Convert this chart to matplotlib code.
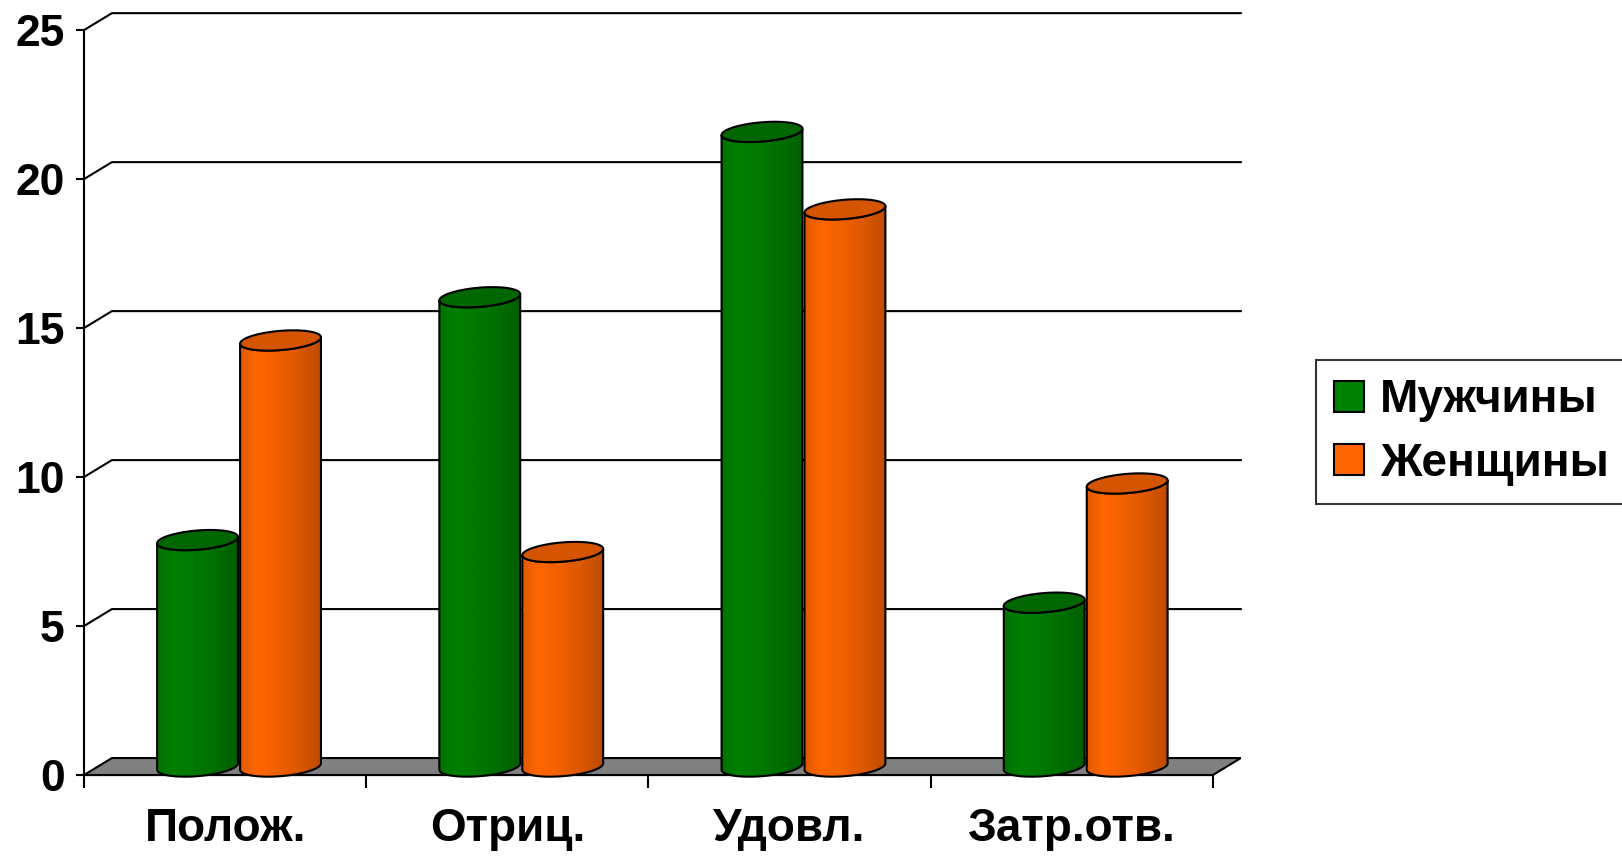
import numpy as np
import matplotlib
matplotlib.use('Agg')
import matplotlib.pyplot as plt
from matplotlib.patches import Polygon, Patch

# Chart data
categories = ['Полож.', 'Отриц.', 'Удовл.', 'Затр.отв.']
men = [7.6, 15.75, 21.3, 5.5]
women = [14.3, 7.2, 18.7, 9.5]
series_names = ['Мужчины', 'Женщины']
y_ticks = [0, 5, 10, 15, 20, 25]

# Colours (base side colour, top cap colour)
GREEN = (0.0, 0.50, 0.0)
GREEN_TOP = (0.0, 0.40, 0.0)
ORANGE = (1.0, 0.40, 0.0)
ORANGE_TOP = (0.83, 0.33, 0.0)

# Fake 3D geometry, in data units
DX = 0.099      # depth shift along x
DY = 0.57       # depth shift along y
R = 0.136       # cylinder half width
SX = 0.045      # ellipse skew in x
SY = 0.34       # ellipse half height
SHIFT = 0.147   # distance of each bar from the pair centre

plt.rcParams['font.family'] = ['Liberation Sans', 'DejaVu Sans']
plt.rcParams['font.weight'] = 'bold'

fig = plt.figure(figsize=(16.22, 8.58), dpi=100)
ax = fig.add_axes([13.4 / 1622, 0.0446, 1270 / 1622, 0.955])


def shade(rgb, pos):
    """Horizontal light profile of a cylinder side."""
    prof = np.interp(pos, [0.0, 0.2, 0.45, 0.75, 1.0], [0.88, 1.0, 0.95, 0.85, 0.74])
    return np.clip(np.outer(prof, rgb), 0, 1)


def cylinder(ax, cx, h, rgb, top_rgb, z):
    t_r = np.arctan2(SX, R)
    cy0 = DY / 2
    cy1 = DY / 2 + h
    tf = np.linspace(t_r - np.pi, t_r, 60)
    bx = cx + R * np.cos(tf) + SX * np.sin(tf)
    by = cy0 + SY * np.sin(tf)
    tx = cx + R * np.cos(tf[::-1]) + SX * np.sin(tf[::-1])
    ty = cy1 + SY * np.sin(tf[::-1])
    body = Polygon(np.column_stack([np.r_[bx, tx], np.r_[by, ty]]), closed=True,
                   facecolor='none', edgecolor='black', lw=1.5, zorder=z + 0.02)
    ax.add_patch(body)

    w = np.sqrt(R ** 2 + SX ** 2)
    grad = shade(np.array(rgb), np.linspace(0, 1, 200))[np.newaxis, :, :]
    im = ax.imshow(grad, extent=(cx - w, cx + w, cy0 - SY, cy1 + SY),
                   aspect='auto', interpolation='bilinear', zorder=z)
    im.set_clip_path(body)

    ta = np.linspace(0, 2 * np.pi, 120)
    cap = Polygon(np.column_stack([cx + R * np.cos(ta) + SX * np.sin(ta),
                                   cy1 + SY * np.sin(ta)]), closed=True,
                  facecolor=top_rgb, edgecolor='black', lw=1.5, zorder=z + 0.03)
    ax.add_patch(cap)


n = len(categories)

# floor and back wall gridlines
floor = Polygon([(0, 0), (n, 0), (n + DX, DY), (DX, DY)], closed=True,
                facecolor='#808080', edgecolor='black', lw=1.5, zorder=1)
ax.add_patch(floor)
for v in y_ticks[1:]:
    ax.plot([0, DX, n + DX], [v, v + DY, v + DY], color='black', lw=1.5, zorder=1)

# bars
z = 3
for i in range(n):
    centre = i + 0.5 + DX / 2
    cylinder(ax, centre - SHIFT, men[i], GREEN, GREEN_TOP, z)
    z += 0.1
    cylinder(ax, centre + SHIFT, women[i], ORANGE, ORANGE_TOP, z)
    z += 0.1

ax.set_xlim(-0.25, 4.25)
ax.set_ylim(-1.5, 26)

for s in ['top', 'right']:
    ax.spines[s].set_visible(False)
ax.spines['left'].set_position(('data', 0))
ax.spines['left'].set_bounds(0, 25)
ax.spines['bottom'].set_position(('data', 0))
ax.spines['bottom'].set_bounds(0, n)
ax.spines['left'].set_linewidth(1.5)
ax.spines['bottom'].set_linewidth(1.5)
ax.spines['left'].set_zorder(2)
ax.spines['bottom'].set_zorder(2)

ax.set_yticks(y_ticks)
ax.set_yticklabels([str(v) for v in y_ticks], fontsize=32, fontweight='bold')
ax.tick_params(axis='y', length=6, width=1.5, pad=8)

ax.set_xticks(np.arange(n + 1))
ax.set_xticklabels([])
ax.tick_params(axis='x', which='major', length=9, width=1.5)
ax.set_xticks(np.arange(n) + 0.5, minor=True)
ax.set_xticklabels(categories, minor=True, fontsize=33, fontweight='bold')
ax.tick_params(axis='x', which='minor', length=0, pad=23)

handles = [Patch(facecolor=GREEN, edgecolor='black', lw=1.5),
           Patch(facecolor=ORANGE, edgecolor='black', lw=1.5)]
leg = fig.legend(handles, series_names, loc='center left',
                 bbox_to_anchor=(1316 / 1622, 1 - 432 / 858),
                 prop={'size': 33, 'weight': 'bold'}, frameon=True, fancybox=False,
                 handlelength=0.65, handleheight=0.65, handletextpad=0.35,
                 labelspacing=0.42, borderpad=0.4, borderaxespad=0)
leg.get_frame().set_edgecolor('black')
leg.get_frame().set_linewidth(1.5)

fig.savefig('out.png', dpi=100)
